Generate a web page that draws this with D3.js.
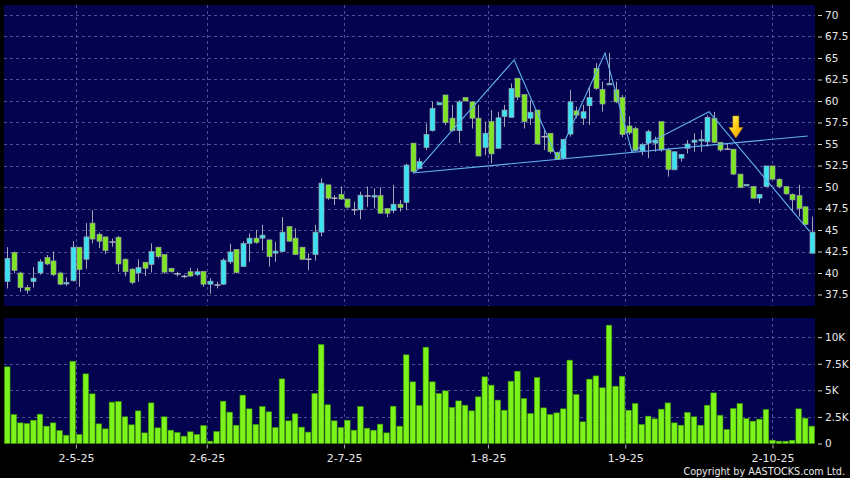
<!DOCTYPE html>
<meta charset="utf-8">
<script src="https://cdn.jsdelivr.net/npm/d3@7"></script>
<style>
body{margin:0;background:#000;}
svg{display:block;}
text{font-family:"DejaVu Sans",Verdana,sans-serif;fill:#e8e8e8;}
</style>
<div id="vis"></div>
<script>

// daily candles (index 0..123)
var opens  = [39.0,42.4,40.0,38.3,39.0,40.0,41.8,41.4,40.0,38.8,39.1,43.0,41.6,45.8,44.5,44.2,43.6,44.15,41.6,40.45,
              40.0,41.25,41.0,43.0,42.15,40.55,39.9,39.6,40.15,39.8,40.2,38.7,38.6,38.7,41.3,42.75,40.75,43.45,44.05,44.05,
              43.85,42.3,42.5,45.4,44.05,43.0,41.6,42.15,44.75,50.25,48.7,49.15,48.6,47.35,47.35,48.95,48.9,49.0,47.5,47.25,
              48.0,48.2,55.1,52.15,54.6,56.55,59.55,60.7,58.0,56.55,60.4,59.9,58.0,54.6,57.6,54.5,58.2,58.1,62.65,60.75,
              58.0,58.95,55.85,56.25,54.0,53.35,56.15,58.85,58.0,59.45,63.8,61.35,61.9,61.3,60.4,57.1,56.8,54.2,55.1,55.1,
              57.6,54.3,52.0,53.35,54.5,55.2,55.35,55.25,58.0,55.2,54.4,54.4,51.5,50.2,50.05,48.7,50.05,52.45,50.9,50.05,
              49.15,49.0,47.7,42.3];
var highs  = [43.0,42.5,40.15,38.6,40.7,41.6,42.1,42.5,40.15,39.5,43.7,43.0,45.8,47.3,44.7,44.2,44.0,44.3,41.7,40.55,
              41.6,41.25,43.45,43.0,42.15,40.55,40.15,39.8,40.6,40.55,40.2,39.4,39.0,41.7,43.4,42.75,43.7,44.6,45.0,45.6,
              43.85,43.65,46.5,45.4,45.2,43.0,42.3,45.6,51.0,50.25,49.05,50.05,48.6,48.3,49.45,50.05,49.85,49.95,47.5,50.25,
              48.5,52.7,55.1,53.35,57.4,59.9,59.8,60.7,59.55,60.1,60.4,59.9,59.55,57.6,58.95,58.75,59.55,62.05,62.65,60.75,
              60.1,58.95,56.6,56.25,54.1,55.55,61.3,59.35,59.55,61.65,64.4,62.25,65.6,62.25,60.7,58.2,57.0,55.1,56.65,55.85,
              57.6,54.5,54.1,53.8,55.45,56.25,56.6,58.35,58.75,55.2,55.1,54.4,51.5,50.3,50.1,49.15,52.45,52.45,51.0,50.05,
              49.25,50.25,47.7,46.55];
var lows   = [38.2,40.0,37.8,37.6,38.3,39.8,40.9,39.65,38.6,38.5,39.0,38.4,40.5,43.45,42.9,42.2,43.05,40.15,39.6,38.7,
              39.0,39.65,40.05,41.7,39.9,40.05,39.6,39.4,39.55,39.65,38.4,37.6,38.2,38.6,41.05,39.95,40.75,41.3,43.4,42.6,
              40.75,41.3,42.5,43.65,42.1,41.5,40.3,41.45,44.25,48.5,47.9,48.5,47.5,46.75,46.25,47.7,47.5,46.95,46.5,46.95,
              47.15,47.3,51.6,52.15,54.3,56.45,59.55,57.2,56.45,55.1,60.0,56.8,53.6,53.7,52.75,54.5,57.0,58.1,60.1,56.8,
              57.2,54.9,54.3,53.9,53.15,53.2,55.85,58.0,57.2,57.2,61.3,58.75,61.9,59.75,55.8,56.05,54.1,53.7,53.35,54.1,
              54.1,51.2,52.0,52.95,53.9,54.1,54.1,54.7,55.1,54.1,54.3,51.4,49.85,50.2,48.7,48.1,50.05,50.9,49.85,49.1,
              47.1,46.55,45.55,42.3];
var closes = [41.7,40.3,38.3,38.0,39.4,41.3,41.05,39.8,38.7,38.9,43.0,40.4,44.2,43.95,43.7,42.6,43.6,41.05,40.15,38.9,
              40.65,40.55,42.5,41.9,40.1,40.15,39.9,39.6,39.65,40.15,38.7,39.05,38.6,41.5,42.45,40.05,43.45,44.05,43.55,44.4,
              41.9,42.55,44.75,43.7,42.15,41.6,41.6,44.75,50.45,48.7,48.7,48.6,47.65,47.35,49.05,48.95,49.0,46.95,46.95,48.0,
              47.6,52.55,51.8,52.95,56.1,59.15,59.8,57.5,56.55,59.9,60.0,58.0,53.6,56.25,53.85,58.05,58.95,61.45,60.45,57.6,
              58.7,55.0,55.85,54.1,53.2,55.55,59.9,58.35,58.75,60.4,61.45,59.65,62.05,59.9,56.1,56.3,54.25,54.95,56.45,55.45,
              54.3,52.05,54.1,53.8,55.0,55.45,55.55,58.1,55.2,54.3,54.4,51.5,49.95,50.3,48.7,49.15,52.45,50.9,50.05,49.2,
              48.5,47.5,45.65,44.75];
// volume in thousands
var volumes = [7.21,2.73,1.94,1.88,2.19,2.76,1.63,1.94,1.22,0.78,7.74,0.85,6.55,4.67,1.85,1.38,3.89,3.95,2.51,1.76,
               3.07,1.0,3.82,1.47,2.51,1.25,1.03,0.69,1.1,0.85,1.69,0.22,1.13,3.98,2.95,1.72,4.55,3.26,1.79,3.48,
               2.98,1.5,6.08,2.13,2.79,1.54,1.07,4.7,9.31,3.64,2.13,1.5,2.19,1.25,3.48,1.44,1.25,1.82,1.0,3.51,
               1.63,8.34,5.8,3.57,9.06,5.8,4.7,4.95,3.39,4.01,3.6,3.07,4.39,6.27,5.49,4.08,3.13,5.86,6.8,4.23,
               2.82,6.21,3.35,2.73,2.88,3.26,7.84,4.61,2.04,6.05,6.36,5.24,11.13,5.39,6.33,3.13,3.76,1.79,2.57,2.32,
               3.23,3.82,1.94,1.72,2.92,2.51,1.72,3.6,4.76,2.66,1.32,3.29,3.76,2.35,2.1,2.29,3.2,0.31,0.22,0.22,
               0.31,3.26,2.38,1.63];

// date ticks (fractional bar index) and labels
var tickIdx    = [10.5, 30.5, 51.5, 73.5, 94.5, 117];
var tickLabels = ["2-5-25", "2-6-25", "2-7-25", "1-8-25", "1-9-25", "2-10-25"];
var priceTicks = [37.5, 40, 42.5, 45, 47.5, 50, 52.5, 55, 57.5, 60, 62.5, 65, 67.5, 70];
var volTicks   = [0, 2.5, 5, 7.5, 10];
var volLabels  = ["0", "2.5K", "5K", "7.5K", "10K"];

// drawn pattern lines: [bar index, price]
var zigzag   = [[62.3,51.63],[77.5,64.77],[84.05,53.37],[91.4,65.58],[95.5,54.1],[107.3,58.76],[122.7,44.8]];
var neckline = [[62.0,51.63],[122.4,55.93]];
var arrowAt  = [111.4, 55.7];

var w = 850, h = 478;
var left = 4, right = 815;
var pTop = 5, pBot = 306, vTop = 318, vBot = 443.5;
var n = closes.length;

var svg = d3.select("#vis").append("svg")
    .attr("width", w).attr("height", h);

var defs = svg.append("defs");
var grad = defs.append("linearGradient").attr("id", "arrowGrad")
    .attr("x1", 0).attr("y1", 0).attr("x2", 1).attr("y2", 1);
grad.append("stop").attr("offset", "0%").attr("stop-color", "#fff27a");
grad.append("stop").attr("offset", "45%").attr("stop-color", "#ffd21a");
grad.append("stop").attr("offset", "100%").attr("stop-color", "#e89200");

svg.append("rect").attr("width", w).attr("height", h).attr("fill", "#000");

// scales
var x = d3.scaleLinear().domain([-0.5, n - 0.5]).range([left, right]);
var y = d3.scaleLinear().domain([37.5, 70]).range([294.5, 15]);
var yv = d3.scaleLinear().domain([0, 10]).range([vBot, 337.2]);
var step = x(1) - x(0);

// panels
svg.append("rect").attr("x", left).attr("y", pTop)
    .attr("width", right - left).attr("height", pBot - pTop).attr("fill", "#03034f");
svg.append("rect").attr("x", left).attr("y", vTop)
    .attr("width", right - left).attr("height", vBot - vTop).attr("fill", "#03034f");

// grid
var grid = svg.append("g").attr("stroke", "#5a64a0").attr("stroke-width", 0.8)
    .attr("stroke-dasharray", "3,3").attr("shape-rendering", "crispEdges");
grid.selectAll(".hp").data(priceTicks).enter().append("line")
    .attr("x1", left).attr("x2", right)
    .attr("y1", function(d) { return Math.round(y(d)) + 0.5; })
    .attr("y2", function(d) { return Math.round(y(d)) + 0.5; });
grid.selectAll(".hv").data(volTicks.slice(1)).enter().append("line")
    .attr("x1", left).attr("x2", right)
    .attr("y1", function(d) { return Math.round(yv(d)) + 0.5; })
    .attr("y2", function(d) { return Math.round(yv(d)) + 0.5; });
tickIdx.forEach(function(t) {
  var xx = Math.round(x(t)) + 0.5;
  grid.append("line").attr("x1", xx).attr("x2", xx).attr("y1", pTop).attr("y2", pBot);
  grid.append("line").attr("x1", xx).attr("x2", xx).attr("y1", vTop).attr("y2", vBot);
});

// candles
var bw = 5;
var candles = svg.append("g");
d3.range(n).forEach(function(i) {
  var o = opens[i], c = closes[i], cx = Math.round(x(i)) + 0.5;
  candles.append("line")
      .attr("x1", cx).attr("x2", cx)
      .attr("y1", y(highs[i])).attr("y2", y(lows[i]))
      .attr("stroke", "#a4a4b4").attr("stroke-width", 1);
  if (Math.abs(o - c) < 0.02) {
    candles.append("line")
        .attr("x1", cx - bw / 2 - 0.5).attr("x2", cx + bw / 2 + 0.5)
        .attr("y1", y(o)).attr("y2", y(o))
        .attr("stroke", "#b4b4c0").attr("stroke-width", 1.5);
  } else {
    var top = y(Math.max(o, c)), bot = y(Math.min(o, c));
    candles.append("rect")
        .attr("x", cx - bw / 2).attr("y", top)
        .attr("width", bw).attr("height", Math.max(1.5, bot - top))
        .attr("fill", c > o ? "#3ae2f2" : "#7ee620")
        .attr("stroke", "#9aa0a8").attr("stroke-width", 0.7);
  }
});

// volume bars
svg.append("g").selectAll("rect").data(volumes).enter().append("rect")
    .attr("x", function(d, i) { return x(i) - (step - 1) / 2; })
    .attr("y", function(d) { return yv(d); })
    .attr("width", step - 1)
    .attr("height", function(d) { return vBot - yv(d); })
    .attr("fill", "#7cf41c")
    .attr("stroke", "#3f9a00").attr("stroke-width", 0.6);

// pattern lines
var line = d3.line()
    .x(function(d) { return x(d[0]); })
    .y(function(d) { return y(d[1]); });
svg.append("path").datum(zigzag).attr("d", line)
    .attr("fill", "none").attr("stroke", "#62b2ee").attr("stroke-width", 1.1);
svg.append("path").datum(neckline).attr("d", line)
    .attr("fill", "none").attr("stroke", "#62b2ee").attr("stroke-width", 1.1);

// signal arrow
var ax = x(arrowAt[0]), ay = y(arrowAt[1]);
svg.append("path")
    .attr("d", "M" + ax + "," + ay + " l-7,-10.5 l4,0 l0,-11.5 l6,0 l0,11.5 l4,0 z")
    .attr("fill", "url(#arrowGrad)").attr("stroke", "#d08a00").attr("stroke-width", 0.5);

// right axes
var ay1 = svg.append("g").attr("transform", "translate(818,0)")
    .call(d3.axisRight(y).tickValues(priceTicks).tickSize(4).tickPadding(3)
          .tickFormat(function(d) { return d; }));
var ay2 = svg.append("g").attr("transform", "translate(818,0)")
    .call(d3.axisRight(yv).tickValues(volTicks).tickSize(4).tickPadding(3)
          .tickFormat(function(d, i) { return volLabels[i]; }));
[ay1, ay2].forEach(function(a) {
  a.select(".domain").remove();
  a.selectAll("line").attr("stroke", "#d0d0d0");
  a.selectAll("text").attr("font-size", "10.5px").attr("fill", "#e8e8e8")
      .attr("font-family", '"DejaVu Sans",Verdana,sans-serif');
});

// date axis
var ax1 = svg.append("g").attr("transform", "translate(0," + (vBot + 1) + ")")
    .call(d3.axisBottom(x).tickValues(tickIdx).tickSize(4).tickPadding(6)
          .tickFormat(function(d, i) { return tickLabels[i]; }));
ax1.select(".domain").remove();
ax1.selectAll("line").attr("stroke", "#b0b0b0");
ax1.selectAll("text").attr("font-size", "11px").attr("fill", "#e8e8e8")
    .attr("font-family", '"DejaVu Sans",Verdana,sans-serif');

svg.append("text").attr("x", 845).attr("y", 475).attr("text-anchor", "end")
    .attr("font-size", "9.6px").text("Copyright by AASTOCKS.com Ltd.");

</script>
